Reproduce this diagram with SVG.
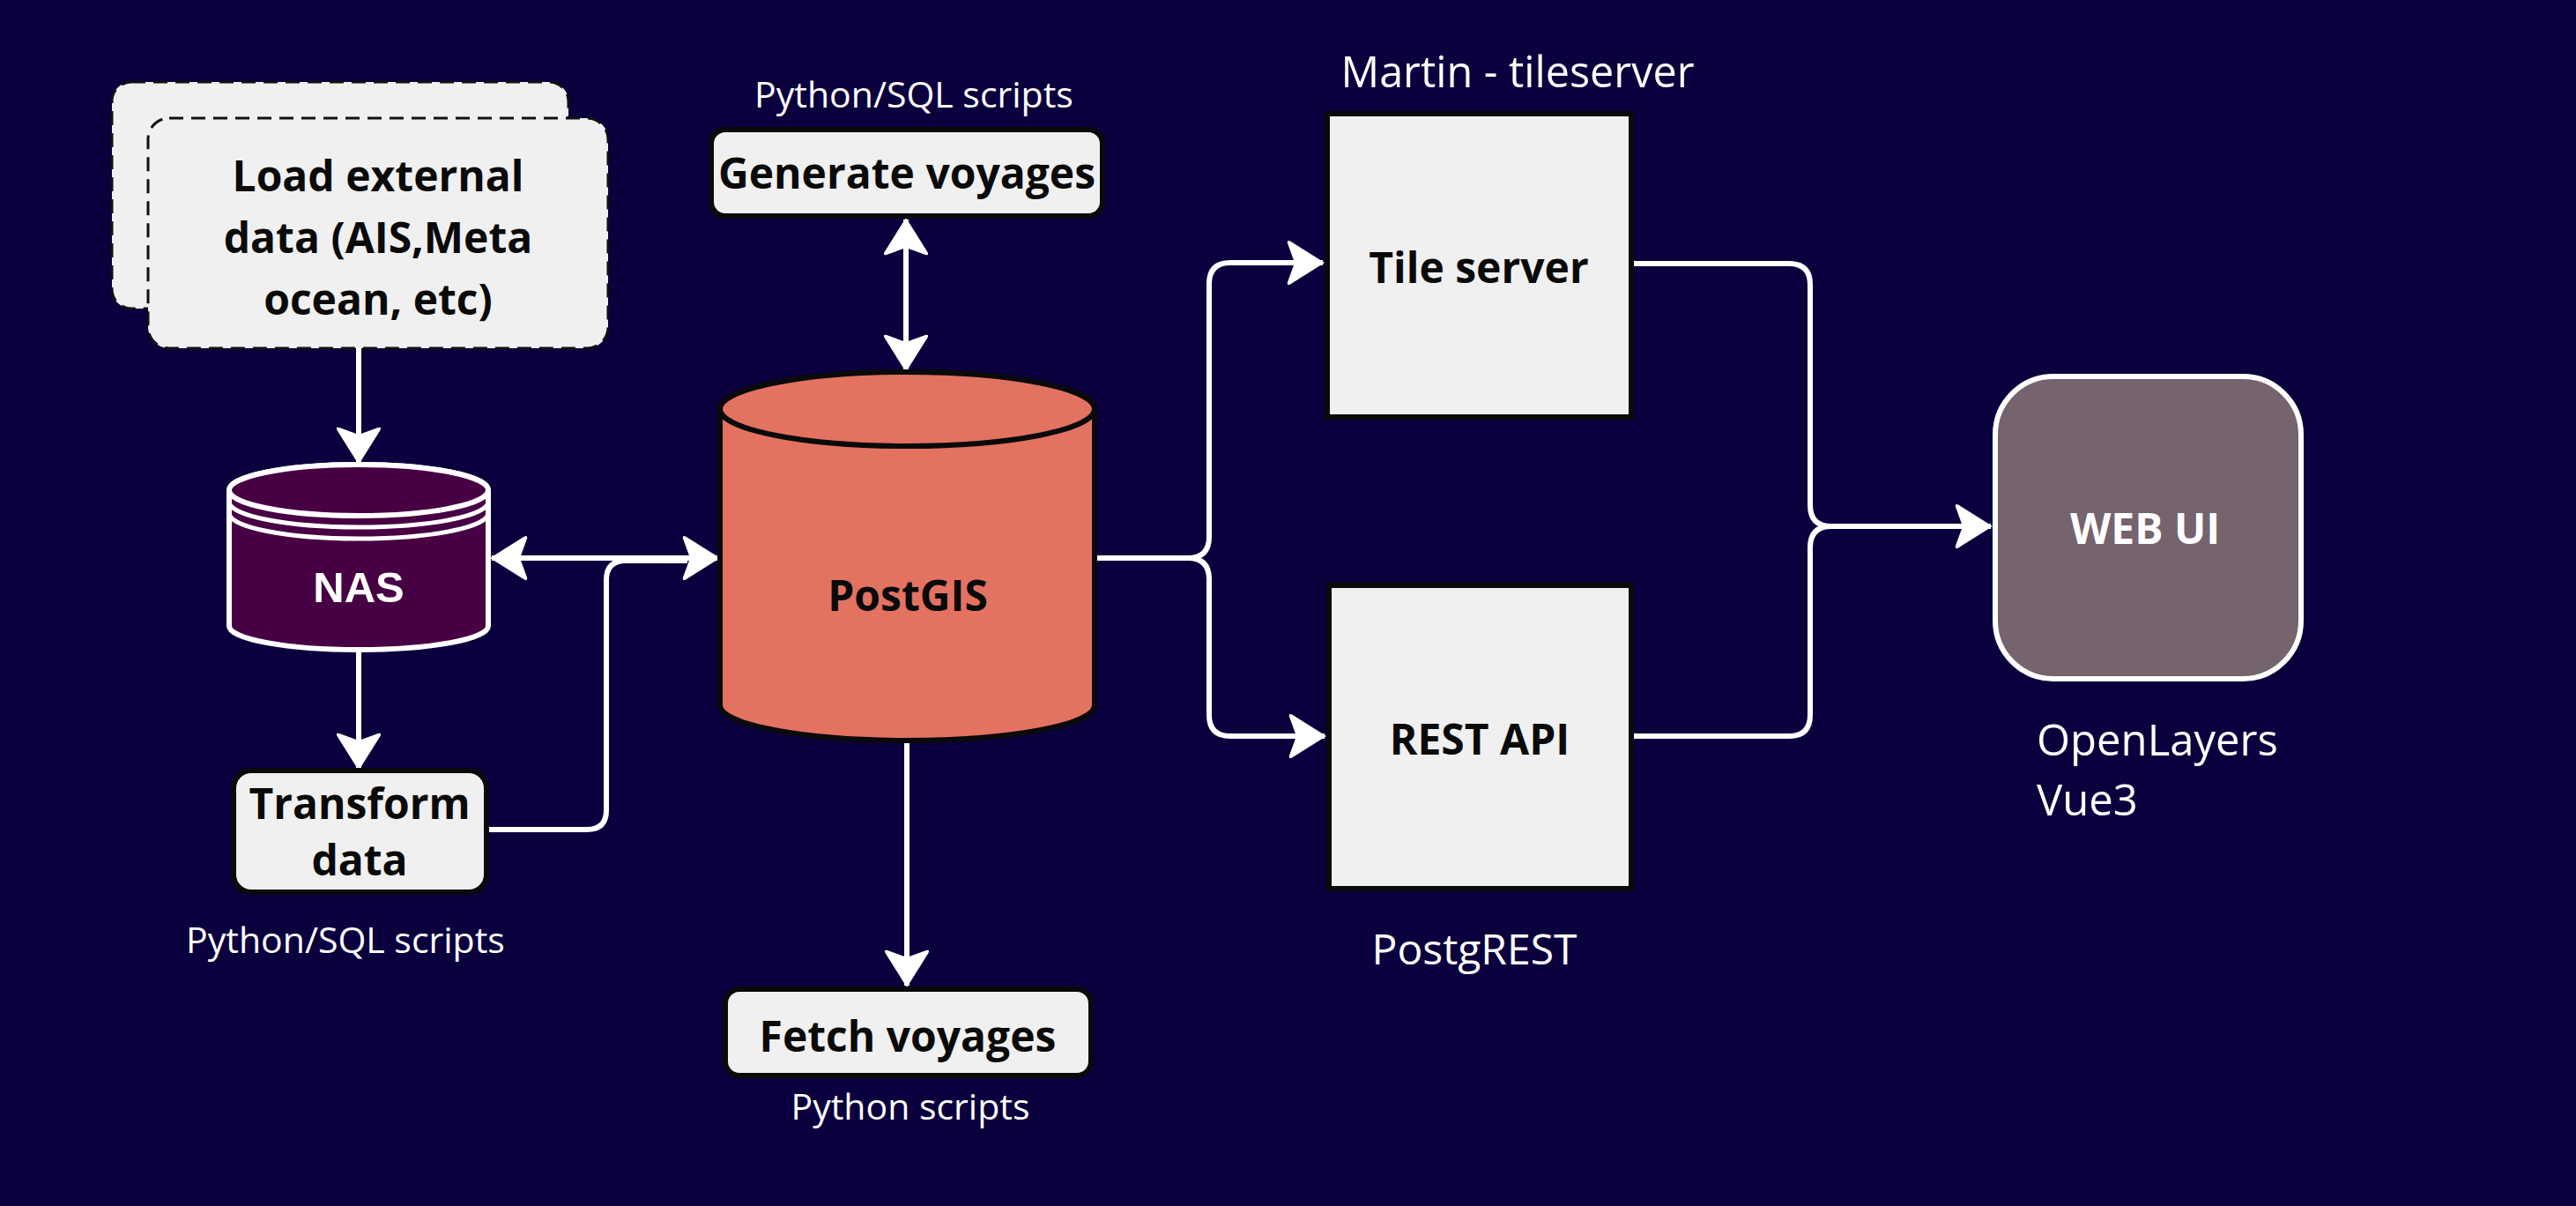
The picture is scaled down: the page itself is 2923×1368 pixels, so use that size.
<svg xmlns="http://www.w3.org/2000/svg" width="2923" height="1368" viewBox="0 0 2923 1368">
  <style>
    .bold { font-family: "Open Sans", "Noto Sans", sans-serif; font-weight: 700; font-size: 48px; fill: #0a0a0a; text-anchor: middle; }
    .label { font-family: "Open Sans", "Noto Sans", sans-serif; font-weight: 400; fill: #ffffff; }
    .box { fill: #f0f0f0; stroke: #0a0a0a; stroke-width: 6; }
    .dash { fill: #f0f0f0; stroke: #111111; stroke-width: 3; stroke-dasharray: 16 9; }
    .conn { fill: none; stroke: #ffffff; stroke-width: 6; stroke-linejoin: round; }
  </style>
  <defs>
    <marker id="arrow" viewBox="0 0 44 52" refX="42" refY="26" markerWidth="44" markerHeight="52" markerUnits="userSpaceOnUse" orient="auto-start-reverse">
      <path d="M44,26 L5,1.5 Q1,-0.5 2,4 L10,26 L2,48 Q1,52.5 5,50.5 Z" fill="#ffffff"/>
    </marker>
  </defs>
  <rect x="0" y="0" width="2923" height="1368" fill="#0b003e"/>

  <g id="connectors">
    <path class="conn" d="M407,395 L407,525" marker-end="url(#arrow)"/>
    <path class="conn" d="M407,738 L407,872" marker-end="url(#arrow)"/>
    <path class="conn" d="M558,633 L815,633" marker-start="url(#arrow)" marker-end="url(#arrow)"/>
    <path class="conn" d="M552,941 H666 Q688,941 688,919 V658 Q688,636 710,636 H780"/>
    <path class="conn" d="M1028,249 L1028,420" marker-start="url(#arrow)" marker-end="url(#arrow)"/>
    <path class="conn" d="M1029,842 L1029,1118" marker-end="url(#arrow)"/>
    <path class="conn" d="M1242,633 H1348 Q1372,633 1372,609 V322 Q1372,298 1396,298 H1501" marker-end="url(#arrow)"/>
    <path class="conn" d="M1242,633 H1348 Q1372,633 1372,657 V811 Q1372,835 1396,835 H1503" marker-end="url(#arrow)"/>
    <path class="conn" d="M1854,299 H2030 Q2054,299 2054,323 V573 Q2054,597 2078,597 H2259" marker-end="url(#arrow)"/>
    <path class="conn" d="M1854,835 H2030 Q2054,835 2054,811 V621 Q2054,597 2078,597 H2200"/>
  </g>

  <g id="load-external">
    <rect class="dash" x="127" y="93" width="518" height="257" rx="22"/>
    <rect class="dash" x="168" y="134" width="522" height="261" rx="24"/>
    <text class="bold" x="429" y="217" font-size="49">Load external</text>
    <text class="bold" x="429" y="287" font-size="49">data (AIS,Meta</text>
    <text class="bold" x="429" y="357" font-size="49">ocean, etc)</text>
  </g>

  <g id="nas">
    <path d="M260,556 A147,29 0 0 1 554,556 L554,710 A147,27 0 0 1 260,710 Z" fill="#480044" stroke="#ffffff" stroke-width="6"/>
    <ellipse cx="407" cy="556" rx="147" ry="29" fill="#480044" stroke="#ffffff" stroke-width="6"/>
    <path d="M260,569 A147,29 0 0 0 554,569" fill="none" stroke="#ffffff" stroke-width="5"/>
    <path d="M260,582 A147,29 0 0 0 554,582" fill="none" stroke="#ffffff" stroke-width="5"/>
    <text x="407" y="683" font-family="Liberation Sans, Arial, sans-serif" font-weight="700" font-size="49" fill="#ffffff" text-anchor="middle">NAS</text>
  </g>

  <g id="transform">
    <rect class="box" x="265" y="874" width="287" height="138" rx="20"/>
    <text class="bold" x="408" y="929" font-size="46">Transform</text>
    <text class="bold" x="408" y="993" font-size="46">data</text>
  </g>
  <text class="label" x="392" y="1081" font-size="41" text-anchor="middle">Python/SQL scripts</text>

  <g id="generate-voyages">
    <text class="label" x="1037" y="122" font-size="41" text-anchor="middle">Python/SQL scripts</text>
    <rect class="box" x="807" y="147" width="444" height="98" rx="16"/>
    <text class="bold" x="1029" y="214" font-size="45">Generate voyages</text>
  </g>

  <g id="postgis">
    <path d="M817,464 A212.5,42 0 0 1 1242,464 L1242,800 A212.5,40 0 0 1 817,800 Z" fill="#e37261" stroke="#0a0a0a" stroke-width="6"/>
    <ellipse cx="1029.5" cy="464" rx="212.5" ry="42" fill="#e37261" stroke="#0a0a0a" stroke-width="6"/>
    <text class="bold" x="1030" y="693" font-size="47">PostGIS</text>
  </g>

  <g id="fetch-voyages">
    <rect class="box" x="823" y="1122" width="415" height="98" rx="16"/>
    <text class="bold" x="1030" y="1193">Fetch voyages</text>
    <text class="label" x="1033" y="1270" font-size="41" text-anchor="middle">Python scripts</text>
  </g>

  <g id="tile-server">
    <text class="label" x="1722" y="99" font-size="48.5" text-anchor="middle">Martin - tileserver</text>
    <rect class="box" x="1506" y="129" width="345" height="344"/>
    <text class="bold" x="1678" y="321">Tile server</text>
  </g>

  <g id="rest-api">
    <rect class="box" x="1508" y="664" width="343" height="344"/>
    <text class="bold" x="1679" y="856">REST API</text>
    <text class="label" x="1673" y="1094" font-size="48" text-anchor="middle">PostgREST</text>
  </g>

  <g id="web-ui">
    <rect x="2264" y="427" width="347" height="343" rx="66" fill="#75636d" stroke="#ffffff" stroke-width="6"/>
    <text class="bold" x="2434" y="617" font-size="47" style="fill:#ffffff">WEB UI</text>
    <text class="label" x="2311" y="857" font-size="49">OpenLayers</text>
    <text class="label" x="2311" y="925" font-size="49">Vue3</text>
  </g>
</svg>
